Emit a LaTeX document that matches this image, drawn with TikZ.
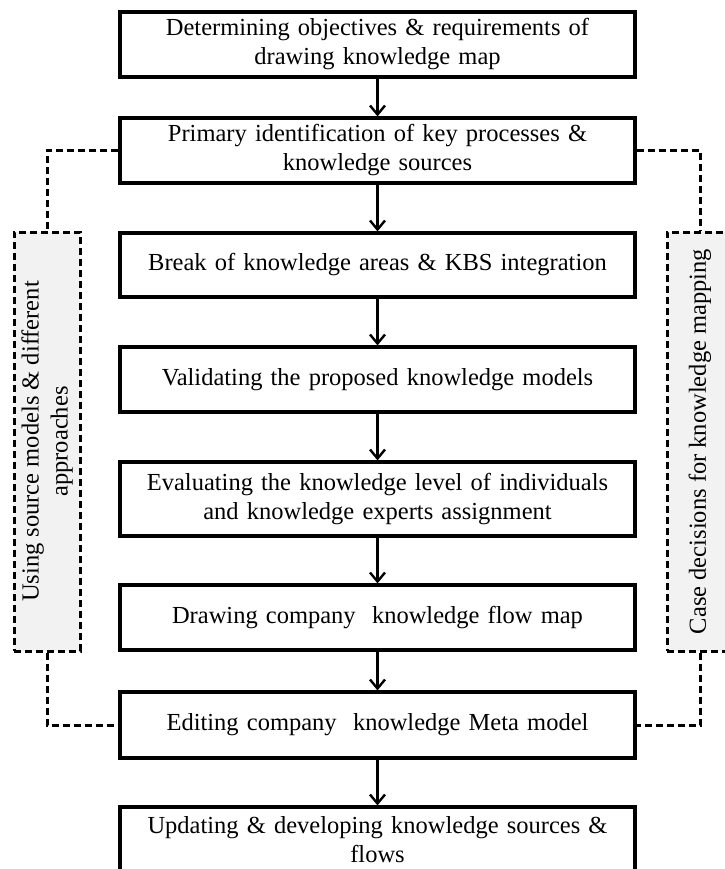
\documentclass[tikz,border=0pt]{standalone}
\usepackage{fontspec}
\setmainfont{Liberation Serif}
\usetikzlibrary{arrows.meta}
\definecolor{sidegray}{HTML}{F2F2F2}
\tikzset{
  stepbox/.style={draw=black, line width=3.2pt, minimum width=515pt, text width=505pt, align=center, inner sep=0pt, font=\fontsize{24.5}{29}\selectfont},
  sidebox/.style={draw=black, line width=3pt, dash pattern=on 7pt off 4pt, fill=sidegray, minimum width=66pt, minimum height=419pt, inner sep=0pt},
  sidetext/.style={rotate=90, align=center, font=\fontsize{24.5}{29}\selectfont},
  flow/.style={line width=2.8pt, -{Straight Barb[length=9pt, width=15pt, line width=2.4pt]}},
  link/.style={line width=3pt, dash pattern=on 7pt off 4pt}
}
\begin{document}
\begin{tikzpicture}[x=1pt,y=-1pt]
\useasboundingbox (0,0) rectangle (724,869);
\node[stepbox, minimum height=65pt] (b1) at (377.5,44.5) {Determining objectives \& requirements of\\drawing knowledge map};
\node[stepbox, minimum height=65pt] (b2) at (377.5,150.5) {Primary identification of key processes \&\\knowledge sources};
\node[stepbox, minimum height=64pt] (b3) at (377.5,265) {Break of knowledge areas \& KBS integration};
\node[stepbox, minimum height=65pt] (b4) at (377.5,379.5) {Validating the proposed knowledge models};
\node[stepbox, minimum height=74pt] (b5) at (377.5,499) {Evaluating the knowledge level of individuals\\and knowledge experts assignment};
\node[stepbox, minimum height=65pt] (b6) at (377.5,617.5) {Drawing company\ \ knowledge flow map};
\node[stepbox, minimum height=66pt] (b7) at (377.5,725) {Editing company\ \ knowledge Meta model};
\node[stepbox, minimum height=65pt] (b8) at (377.5,839.5) {Updating \& developing knowledge sources \&\\flows};

\node[sidebox] (ls) at (47,441.5) {};
\node[sidetext] (lt) at (ls.center) {Using source models \& different\\approaches};
\node[sidebox] (rs) at (700,441.5) {};
\node[sidetext] (rt) at (rs.center) {Case decisions for knowledge mapping};

\draw[flow] (b1) -- (b2);
\draw[flow] (b2) -- (b3);
\draw[flow] (b3) -- (b4);
\draw[flow] (b4) -- (b5);
\draw[flow] (b5) -- (b6);
\draw[flow] (b6) -- (b7);
\draw[flow] (b7) -- (b8);

\draw[link] (b2.west) -| (ls.north);
\draw[link] (ls.south) |- (b7.west);
\draw[link] (b2.east) -| (rs.north);
\draw[link] (rs.south) |- (b7.east);
\end{tikzpicture}
\end{document}
